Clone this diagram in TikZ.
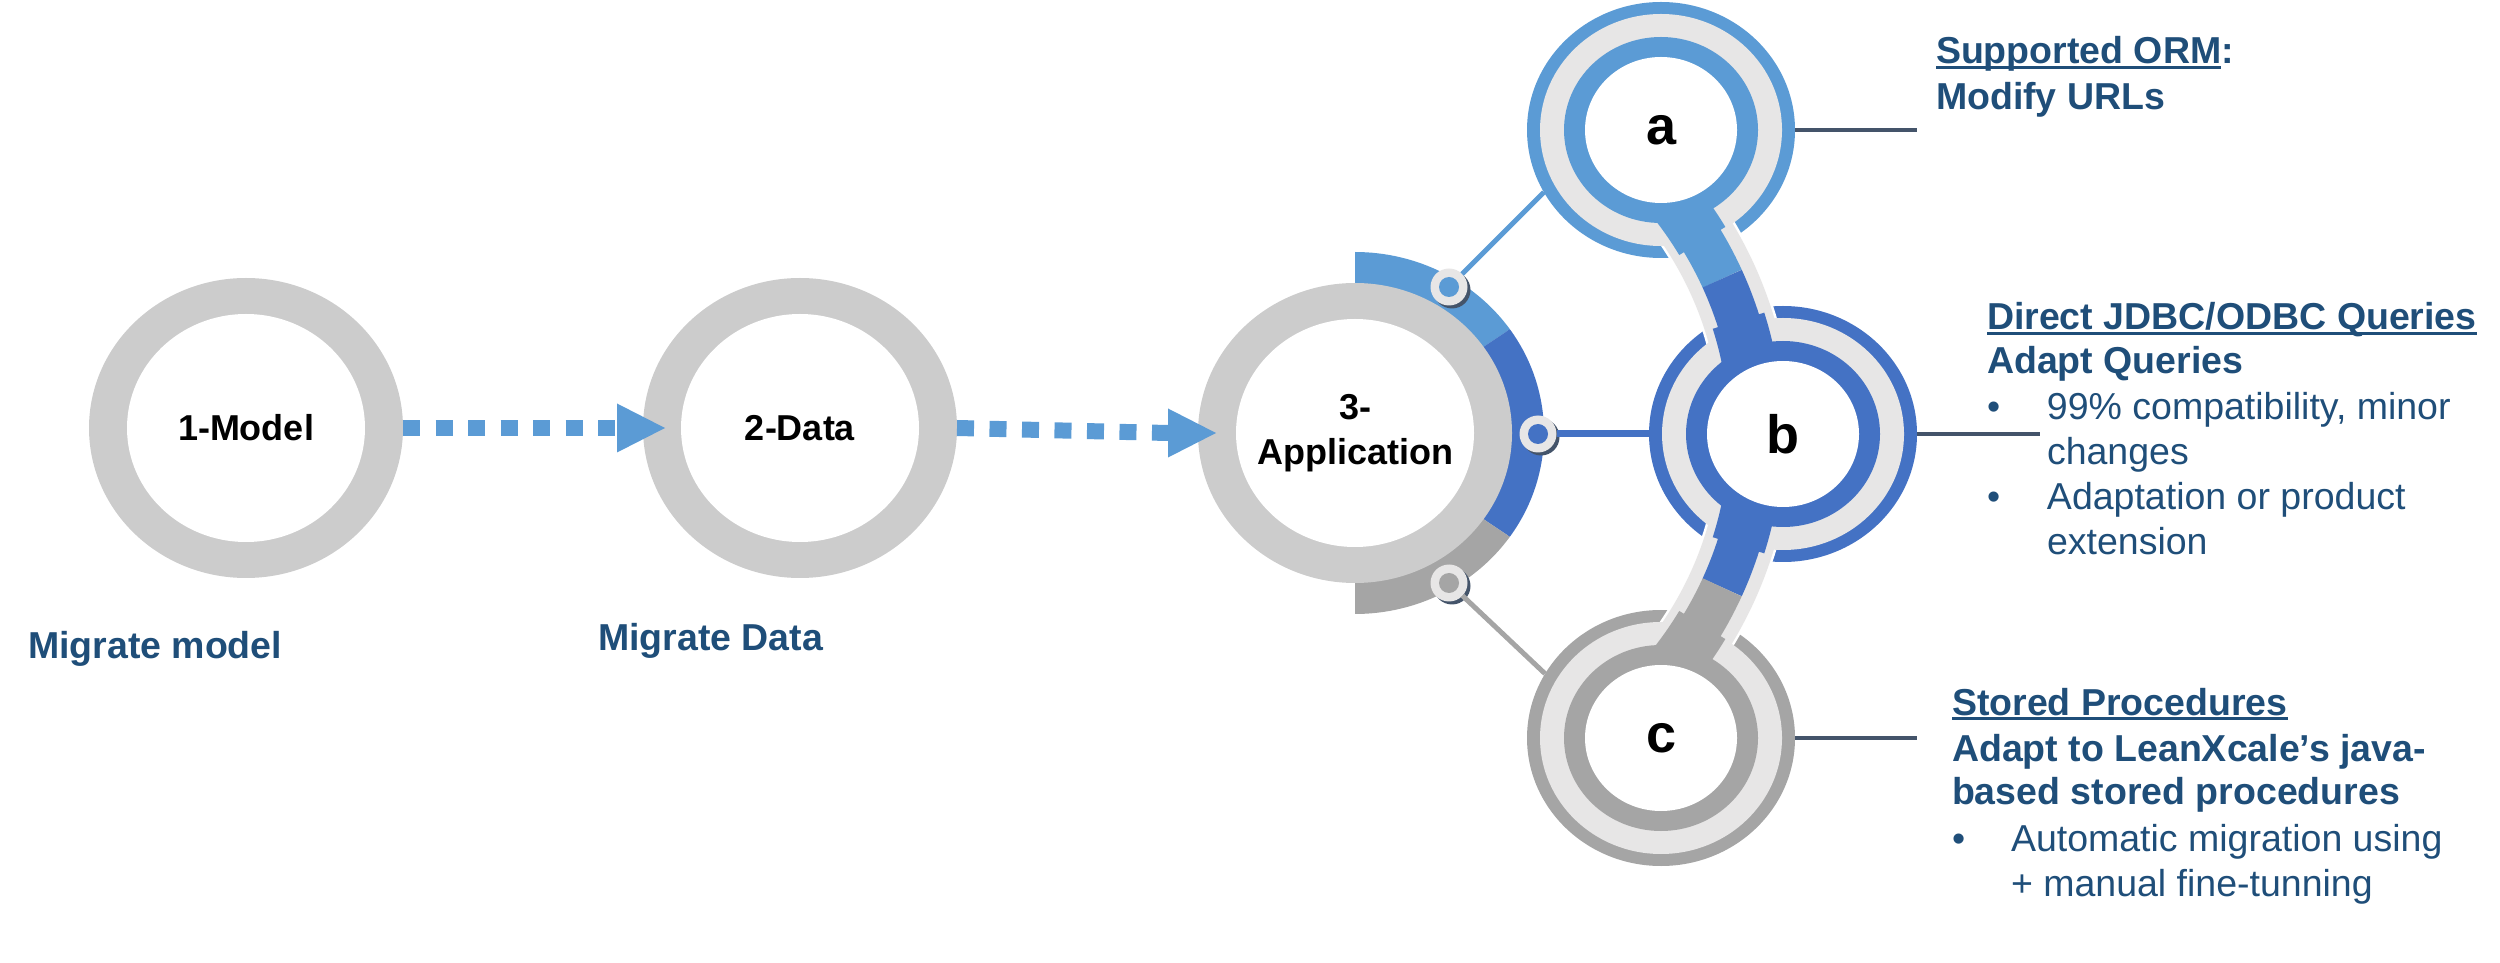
\documentclass[tikz,border=0pt]{standalone}
\usepackage{fontspec}
\setmainfont{Liberation Sans}
\usetikzlibrary{shapes.geometric,calc,shadows}
\definecolor{lblue}{HTML}{5B9BD5}
\definecolor{dblue}{HTML}{4472C4}
\definecolor{mgray}{HTML}{A5A5A5}
\definecolor{lgray}{HTML}{E7E6E6}
\definecolor{rgray}{HTML}{CCCCCC}
\definecolor{slate}{HTML}{44546A}
\definecolor{tblue}{HTML}{1F4E79}
\newcommand\myul[1]{\setbox0\hbox{#1}\rlap{\rule[-4.75pt]{\wd0}{2.5pt}}\box0}
\begin{document}
\begin{tikzpicture}[x=1pt,y=1pt,
  ringlbl/.style={ellipse, inner sep=0pt, outer sep=0pt, minimum width=314pt, minimum height=300pt,
    font=\fontsize{36}{45}\selectfont\bfseries, align=center},
  smalllbl/.style={ellipse, inner sep=0pt, outer sep=0pt, minimum width=268pt, minimum height=256pt,
    font=\fontsize{54}{60}\selectfont\bfseries},
  knob/.style={circle, inner sep=0pt, outer sep=0pt, minimum size=37pt, fill=lgray,
    drop shadow={fill=slate, opacity=1, shadow xshift=3pt, shadow yshift=-3pt},
    path picture={\fill[#1] (path picture bounding box.center) circle[radius=10pt];}},
  txt/.style={inner sep=0pt, outer sep=0pt, anchor=base west, text=tblue, font=\fontsize{37.5}{45}\selectfont},
  btxt/.style={txt, font=\fontsize{37.5}{45}\selectfont\bfseries},
  dotline/.style={lblue, line width=16pt, dash pattern=on 17pt off 15.5pt},
  tline/.style={slate, line width=4pt},
  arcpath/.style={x radius=401, y radius=384},
]
\useasboundingbox (0,0) rectangle (2500,962);

\coordinate (C1) at (246,534);
\coordinate (C2) at (800,534);
\coordinate (C3) at (1355,529);
\coordinate (A) at (1661,832);
\coordinate (B) at (1783,528);
\coordinate (Cc) at (1661,224);

% segmented band around circle 3
\fill[lblue] (C3) -- ++(90:189 and 181) arc[start angle=90,end angle=35,x radius=189,y radius=181] -- cycle;
\fill[dblue] (C3) -- ++(35:189 and 181) arc[start angle=35,end angle=-35,x radius=189,y radius=181] -- cycle;
\fill[mgray] (C3) -- ++(-35:189 and 181) arc[start angle=-35,end angle=-90,x radius=189,y radius=181] -- cycle;

% big gray rings
\foreach \c in {C1,C2,C3}{
  \fill[rgray] (\c) ellipse[x radius=157,y radius=150];
  \fill[white] (\c) ellipse[x radius=119,y radius=114];
}

% outer coloured disks of a, b, c
\fill[lblue] (A) ellipse[x radius=134,y radius=128];
\fill[dblue] (B) ellipse[x radius=134,y radius=128];
\fill[mgray] (Cc) ellipse[x radius=134,y radius=128];

% light gray pipe
\draw[white, line width=75pt] ($(C3)+(48:401 and 384)$) arc[start angle=48,end angle=-48,arcpath];
\draw[lgray, line width=70pt] ($(C3)+(48:401 and 384)$) arc[start angle=48,end angle=-48,arcpath];

% gray rings
\foreach \c in {A,B,Cc}{\fill[lgray] (\c) ellipse[x radius=121,y radius=116];}
% inner coloured rings
\fill[lblue] (A) ellipse[x radius=97,y radius=93];
\fill[dblue] (B) ellipse[x radius=97,y radius=93];
\fill[mgray] (Cc) ellipse[x radius=97,y radius=93];

% coloured core
\draw[lblue, line width=43pt] ($(C3)+(46:401 and 384)$) arc[start angle=46,end angle=23.7,arcpath];
\draw[dblue, line width=43pt] ($(C3)+(23.7:401 and 384)$) arc[start angle=23.7,end angle=-23.7,arcpath];
\draw[mgray, line width=43pt] ($(C3)+(-23.7:401 and 384)$) arc[start angle=-23.7,end angle=-46,arcpath];
% wider core where it cuts the light rings
\draw[lblue, line width=54pt] ($(C3)+(46:401 and 384)$) arc[start angle=46,end angle=30,arcpath];
\draw[dblue, line width=54pt] ($(C3)+(17:401 and 384)$) arc[start angle=17,end angle=-17,arcpath];
\draw[mgray, line width=54pt] ($(C3)+(-30:401 and 384)$) arc[start angle=-30,end angle=-46,arcpath];

% white centres
\foreach \c in {A,B,Cc}{\fill[white] (\c) ellipse[x radius=76,y radius=73];}

% labels
\node[ringlbl] (m1) at (C1) {1-Model};
\node[ringlbl] (m2) at (C2) {2-Data};
\node[ringlbl] (m3) at (C3) {3-\\Application};
\node[smalllbl] (na) at (A) {a};
\node[smalllbl] (nb) at (B) {b};
\node[smalllbl] (nc) at (Cc) {c};

% dotted arrows
\coordinate (h1) at ([xshift=22pt]m2.west);
\coordinate (h2) at ([xshift=18pt]m3.west);
\draw[dotline] (m1.east) -- ([xshift=-48pt]h1);
\fill[lblue] (h1) -- ++(-48,24.5) -- ++(0,-49) -- cycle;
\draw[dotline] (m2.east) -- ([xshift=-48pt]h2);
\fill[lblue] (h2) -- ++(-48,24.5) -- ++(0,-49) -- cycle;

% knobs and connectors
\node[knob=lblue] (kA) at (1449,675) {};
\node[knob=dblue] (kB) at (1538,528) {};
\node[knob=mgray] (kC) at (1449,379) {};
\draw[lblue, line width=5pt] (kA) -- (na.208);
\draw[dblue, line width=7pt] (kB) -- (nb.west);
\draw[mgray, line width=5pt] (kC) -- (nc.151);

% lines to the texts
\coordinate (ea) at (1917,832);
\coordinate (eb) at (2040,528);
\coordinate (ec) at (1917,224);
\draw[tline] (na.east) -- (ea);
\draw[tline] (nb.east) -- (eb);
\draw[tline] (nc.east) -- (ec);

% texts
\node[btxt] (l1) at (28,304) {Migrate model};
\node[btxt] (l2) at (598,312) {Migrate Data};

\node[btxt] (t1) at (1936,898) {\myul{Supported ORM}:};
\node[btxt] (t2) at (1936,852) {Modify URLs};
\node[btxt] (t3) at (1987,632) {\myul{Direct JDBC/ODBC Queries}};
\node[btxt] (t4) at (1987,588) {Adapt Queries};
\node[txt] (t5) at (1987,542) {\makebox[60pt][l]{•}99\% compatibility, minor};
\node[txt] (t6) at (2047,497) {changes};
\node[txt] (t7) at (1987,452) {\makebox[60pt][l]{•}Adaptation or product};
\node[txt] (t8) at (2047,407) {extension};
\node[btxt] (t9) at (1952,247) {\myul{Stored Procedures}};
\node[btxt] (t10) at (1952,201) {Adapt to LeanXcale’s java-};
\node[btxt] (t11) at (1952,158) {based stored procedures};
\node[txt] (t12) at (1952,111) {\makebox[59pt][l]{•}Automatic migration using};
\node[txt] (t13) at (2011,66) {+ manual fine-tunning};
\end{tikzpicture}
\end{document}
